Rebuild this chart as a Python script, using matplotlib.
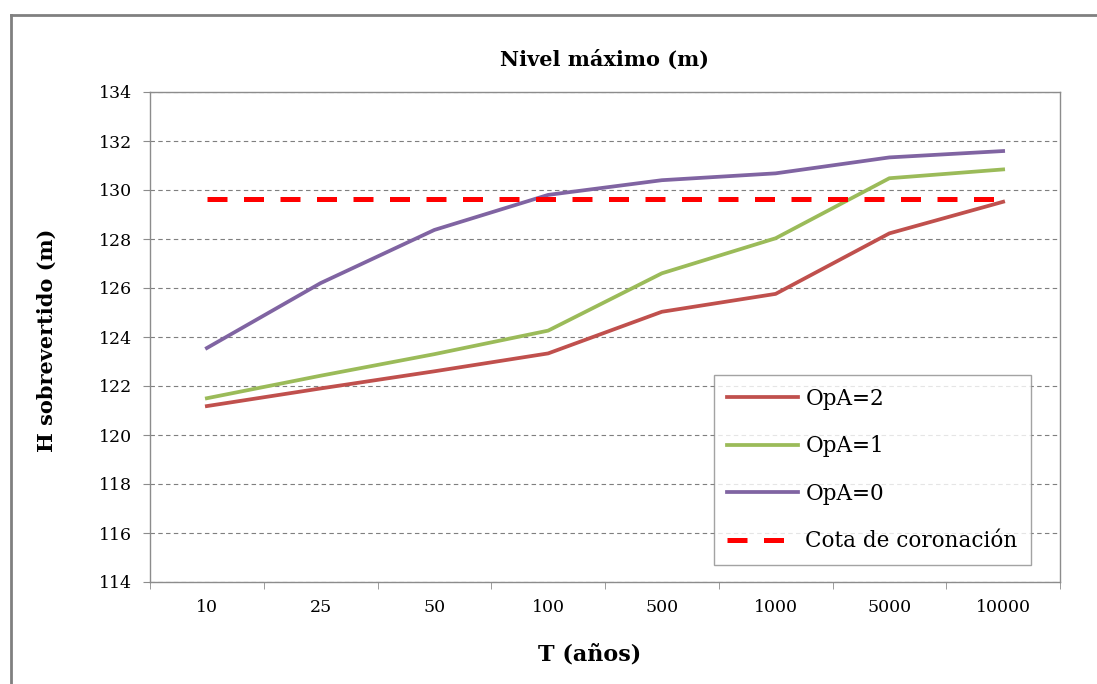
import matplotlib
matplotlib.use("Agg")
import matplotlib.pyplot as plt
from matplotlib.lines import Line2D
from matplotlib.ticker import FixedLocator

plt.rcParams["font.family"] = "DejaVu Serif"

# Data
periods = ["10", "25", "50", "100", "500", "1000", "5000", "10000"]
opa2 = [121.18, 121.9, 122.6, 123.33, 125.03, 125.76, 128.23, 129.52]
opa1 = [121.5, 122.42, 123.3, 124.26, 126.6, 128.03, 130.48, 130.84]
opa0 = [123.55, 126.2, 128.37, 129.8, 130.4, 130.68, 131.33, 131.59]
cota = [129.65] * len(periods)
y_ticks = list(range(114, 135, 2))

COLOR_OPA2 = "#C0504D"
COLOR_OPA1 = "#9BBB59"
COLOR_OPA0 = "#8064A2"
COLOR_COTA = "#FF0000"
AXIS_GRAY = "#8C8C8C"

fig = plt.figure(figsize=(10.97, 6.84), dpi=100)
ax = fig.add_axes([150 / 1097, 1 - 582 / 684, 910 / 1097, 490 / 684])

x = list(range(len(periods)))
ax.plot(x, opa2, color=COLOR_OPA2, lw=2.7, label="OpA=2", zorder=3)
ax.plot(x, opa1, color=COLOR_OPA1, lw=2.7, label="OpA=1", zorder=3)
ax.plot(x, opa0, color=COLOR_OPA0, lw=2.7, label="OpA=0", zorder=3)
ax.plot(x, cota, color=COLOR_COTA, lw=3.6, dashes=(4.0, 3.3),
        label="Cota de coronación", zorder=4)

ax.set_xlim(-0.5, len(periods) - 0.5)
ax.set_ylim(114, 134)
ax.set_yticks(y_ticks)
ax.set_xticks(x)
ax.set_xticklabels(periods)
ax.xaxis.set_minor_locator(FixedLocator([i - 0.5 for i in range(len(periods) + 1)]))

ax.tick_params(axis="x", which="major", length=0, pad=12, labelsize=12.5)
ax.tick_params(axis="x", which="minor", length=5, color=AXIS_GRAY, direction="out")
ax.tick_params(axis="y", length=5, color=AXIS_GRAY, direction="out", pad=8,
               labelsize=12.5)

ax.grid(axis="y", which="major", color="#7F7F7F", lw=0.8, linestyle=(0, (4, 3)))
ax.set_axisbelow(True)
for sp in ax.spines.values():
    sp.set_color(AXIS_GRAY)
    sp.set_linewidth(1.0)

fig.text(605 / 1097, 1 - 60 / 684, "Nivel máximo (m)", ha="center", va="center",
         fontsize=15, fontweight="bold")
fig.text(47 / 1097, 1 - 340 / 684, "H sobrevertido (m)", ha="center", va="center",
         rotation=90, fontsize=15, fontweight="bold")
fig.text(590 / 1097, 1 - 655 / 684, "T (años)", ha="center", va="center",
         fontsize=16, fontweight="bold")

handles = [
    Line2D([], [], color=COLOR_OPA2, lw=2.7),
    Line2D([], [], color=COLOR_OPA1, lw=2.7),
    Line2D([], [], color=COLOR_OPA0, lw=2.7),
    Line2D([], [], color=COLOR_COTA, lw=3.6, dashes=(4.0, 3.3)),
]
leg = fig.legend(handles, ["OpA=2", "OpA=1", "OpA=0", "Cota de coronación"],
                 loc="upper left", bbox_to_anchor=(714 / 1097, 1 - 375 / 684),
                 fontsize=15.5, frameon=True, fancybox=False, handlelength=3.3,
                 handletextpad=0.35, labelspacing=1.18, borderpad=0.6,
                 borderaxespad=0)
leg.get_frame().set_edgecolor(AXIS_GRAY)
leg.get_frame().set_linewidth(1.0)

# Outer chart frame (top and left edges visible)
fig.add_artist(Line2D([11 / 1097, 1.0], [1 - 15 / 684, 1 - 15 / 684],
                      transform=fig.transFigure, color="#808080", lw=2))
fig.add_artist(Line2D([11 / 1097, 11 / 1097], [0.0, 1 - 15 / 684],
                      transform=fig.transFigure, color="#808080", lw=2))

fig.savefig("out.png", dpi=100)
